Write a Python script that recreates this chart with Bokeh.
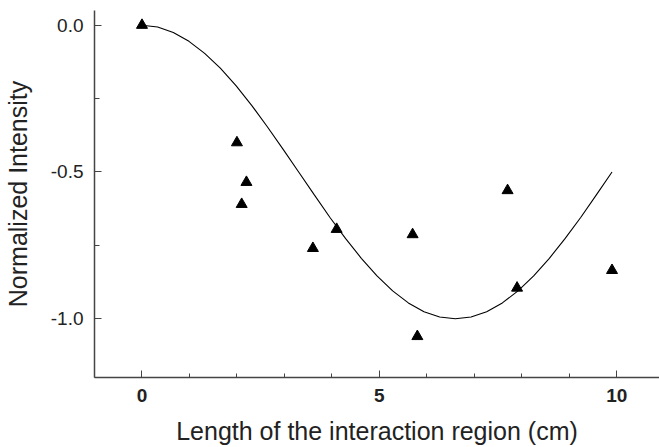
from bokeh.plotting import figure
from bokeh.models import FixedTicker, Range1d
from bokeh.embed import file_html
from bokeh.resources import INLINE

# measured points (cm, normalized intensity)
length_cm = [0.0, 2.0, 2.2, 2.1, 3.6, 4.1, 5.7, 5.8, 7.9, 9.9, 7.7]
intensity = [0.0, -0.40, -0.535, -0.61, -0.76, -0.695, -0.713, -1.06, -0.895, -0.835, -0.563]

# fitted curve
curve_x = [0.0, 0.33, 0.66, 0.99, 1.32, 1.65, 1.98, 2.31, 2.64, 2.97, 3.30,
           3.63, 3.96, 4.29, 4.62, 4.95, 5.28, 5.61, 5.94, 6.27, 6.60,
           6.93, 7.26, 7.59, 7.92, 8.25, 8.58, 8.91, 9.24, 9.57, 9.90]
curve_y = [0.0, -0.006, -0.025, -0.055, -0.096, -0.146, -0.206, -0.273, -0.346, -0.422, -0.500,
           -0.578, -0.655, -0.727, -0.794, -0.854, -0.905, -0.946, -0.976, -0.994, -1.000,
           -0.994, -0.976, -0.946, -0.905, -0.854, -0.794, -0.727, -0.655, -0.578, -0.500]

x_major = [0, 5, 10]
x_minor = [-1, 0, 1, 2, 3, 4, 5, 6, 7, 8, 9, 10, 11]
y_major = [-1.0, -0.5, 0.0]
y_minor = [-1.25, -1.0, -0.75, -0.5, -0.25, 0.0]

p = figure(width=659, height=447, output_backend="svg", toolbar_location=None,
           x_range=Range1d(-1.0, 10.9), y_range=Range1d(-1.2, 0.05),
           min_border_left=94, min_border_right=0, min_border_top=10, min_border_bottom=70)
p.outline_line_color = None
p.xgrid.visible = False
p.ygrid.visible = False
p.background_fill_color = "white"
p.border_fill_color = "white"

p.line(curve_x, curve_y, line_color="black", line_width=1.1)
p.scatter(length_cm, intensity, marker="triangle", size=11, fill_color="black", line_color="black")

font = "Liberation Sans"
xa = p.xaxis[0]
xa.ticker = FixedTicker(ticks=x_major, minor_ticks=x_minor)
xa.axis_label = "Length of the interaction region (cm)"
xa.axis_label_text_font = font
xa.axis_label_text_font_size = "25px"
xa.axis_label_text_font_style = "normal"
xa.axis_label_text_color = "#222222"
xa.axis_label_standoff = 12
xa.major_label_text_font = font
xa.major_label_text_font_size = "19px"
xa.major_label_text_font_style = "bold"
xa.major_label_text_color = "#222222"
xa.major_label_standoff = 11
xa.major_tick_in = 7
xa.major_tick_out = 0
xa.minor_tick_in = 4
xa.minor_tick_out = 0
xa.axis_line_color = "#444444"
xa.major_tick_line_color = "#444444"
xa.minor_tick_line_color = "#444444"
xa.axis_line_width = 1.5

ya = p.yaxis[0]
ya.ticker = FixedTicker(ticks=y_major, minor_ticks=y_minor)
ya.major_label_overrides = {-1.0: "-1.0", -0.5: "-0.5", 0.0: "0.0"}
ya.axis_label = "Normalized Intensity"
ya.axis_label_text_font = font
ya.axis_label_text_font_size = "25px"
ya.axis_label_text_font_style = "normal"
ya.axis_label_text_color = "#222222"
ya.axis_label_standoff = 16
ya.major_label_text_font = font
ya.major_label_text_font_size = "19px"
ya.major_label_text_color = "#222222"
ya.major_label_standoff = 11
ya.major_tick_in = 7
ya.major_tick_out = 0
ya.minor_tick_in = 5
ya.minor_tick_out = 0
ya.axis_line_color = "#444444"
ya.major_tick_line_color = "#444444"
ya.minor_tick_line_color = "#444444"
ya.axis_line_width = 1.5

open("out.html", "w").write(file_html(p, INLINE))
